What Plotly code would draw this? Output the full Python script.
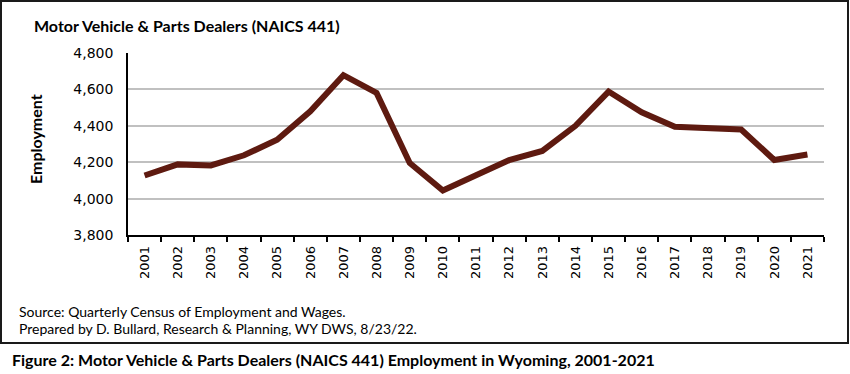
import plotly.graph_objects as go

years = [str(y) for y in range(2001, 2022)]
employment = [4127, 4188, 4182, 4238, 4323, 4480, 4678, 4581, 4196, 4044,
              4128, 4211, 4262, 4400, 4588, 4474, 4395, 4388, 4380, 4212, 4242]
y_ticks = [3800, 4000, 4200, 4400, 4600, 4800]

W, H = 850, 374
L, R, T, B = 128, 824, 53, 235  # plot area px


def px(x):
    return (x - L) / (R - L)


def py(y):
    return (B - y) / (B - T)


CAL = "Lato, Open Sans, sans-serif"

fig = go.Figure()
fig.add_trace(go.Scatter(
    x=years, y=employment, mode="lines",
    line=dict(color="#5e1a10", width=6),
    hoverinfo="x+y", showlegend=False,
))

fig.update_layout(
    width=W, height=H,
    margin=dict(l=L, r=W - R, t=T, b=H - B, pad=0),
    paper_bgcolor="white", plot_bgcolor="white",
    xaxis=dict(
        type="category", range=[-0.5, len(years) - 0.5],
        tickangle=-90, ticks="outside", tickson="boundaries",
        ticklen=5, tickcolor="black", tickwidth=1.5,
        showline=True, linecolor="black", linewidth=1.5,
        showgrid=False,
        tickfont=dict(family="DejaVu Sans, Verdana, sans-serif", size=13, color="black"),
        ticklabelstandoff=4,
    ),
    yaxis=dict(
        range=[3800, 4800], tickvals=y_ticks,
        ticktext=[f"{v:,}" for v in y_ticks],
        showline=True, linecolor="black", linewidth=1.5,
        showgrid=True, gridcolor="#c0c0c0", gridwidth=1.5,
        zeroline=False, ticks="",
        tickfont=dict(family="DejaVu Sans, Verdana, sans-serif", size=14, color="black"),
        ticklabelstandoff=10,
    ),
    shapes=[dict(
        type="rect", xref="paper", yref="paper",
        x0=px(1), x1=px(848), y0=py(343), y1=py(1),
        line=dict(color="#1a1a1a", width=2), fillcolor="rgba(0,0,0,0)", layer="above",
    )],
    annotations=[
        dict(text="<b>Motor Vehicle & Parts Dealers (NAICS 441)</b>",
             xref="paper", yref="paper", x=px(32), y=py(25),
             xanchor="left", yanchor="middle", showarrow=False,
             font=dict(family=CAL, size=16, color="black")),
        dict(text="<b>Employment</b>", textangle=-90,
             xref="paper", yref="paper", x=px(35), y=py(139),
             xanchor="center", yanchor="middle", showarrow=False,
             font=dict(family=CAL, size=16, color="black")),
        dict(text="Source: Quarterly Census of Employment and Wages.",
             xref="paper", yref="paper", x=px(17), y=py(311),
             xanchor="left", yanchor="middle", showarrow=False,
             font=dict(family=CAL, size=14, color="black")),
        dict(text="Prepared by D. Bullard, Research & Planning, WY DWS, 8/23/22.",
             xref="paper", yref="paper", x=px(17), y=py(328),
             xanchor="left", yanchor="middle", showarrow=False,
             font=dict(family=CAL, size=14, color="black")),
        dict(text="<b>Figure 2: Motor Vehicle & Parts Dealers (NAICS 441) Employment in Wyoming, 2001-2021</b>",
             xref="paper", yref="paper", x=px(10), y=py(359),
             xanchor="left", yanchor="middle", showarrow=False,
             font=dict(family=CAL, size=16, color="black")),
    ],
)

fig.write_html(
    "out.html",
    config={"displayModeBar": False},
    post_script="document.body.style.margin='0';document.body.style.overflow='hidden';",
)
